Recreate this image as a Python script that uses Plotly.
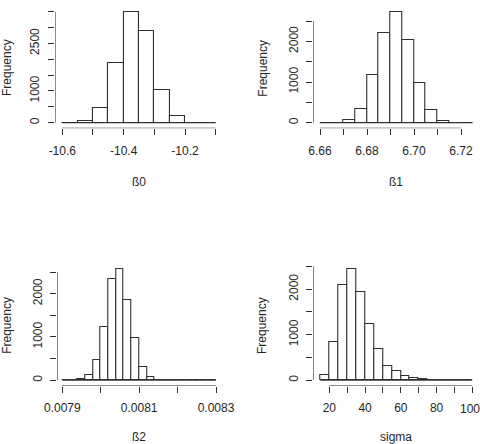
import numpy as np
import plotly.graph_objects as go

W, H = 480, 444

# ---------------- data ----------------
b0_breaks = [-10.60, -10.55, -10.50, -10.45, -10.40, -10.35, -10.30, -10.25, -10.20, -10.15, -10.10]
b0_counts = [0, 40, 462, 1881, 3500, 2880, 1040, 220, 0, 0]
b0_xticks = [-10.6, -10.5, -10.4, -10.3, -10.2, -10.1]
b0_xlabels = ["-10.6", "", "-10.4", "", "-10.2", ""]
b0_yticks = [0, 500, 1000, 1500, 2000, 2500, 3000, 3500]
b0_ylabels = ["0", "", "1000", "", "", "2500", "", ""]

b1_breaks = [6.660, 6.665, 6.670, 6.675, 6.680, 6.685, 6.690, 6.695, 6.700, 6.705, 6.710, 6.715, 6.720, 6.725]
b1_counts = [0, 0, 70, 345, 1165, 2197, 2730, 2035, 970, 315, 45, 0, 0]
b1_xticks = [6.66, 6.67, 6.68, 6.69, 6.70, 6.71, 6.72]
b1_xlabels = ["6.66", "", "6.68", "", "6.70", "", "6.72"]
b1_yticks = [0, 500, 1000, 1500, 2000, 2500]
b1_ylabels = ["0", "", "1000", "", "2000", ""]

b2_breaks = [0.00790, 0.00792, 0.00794, 0.00796, 0.00798, 0.00800, 0.00802, 0.00804, 0.00806,
             0.00808, 0.00810, 0.00812, 0.00814, 0.00816, 0.00818, 0.00820, 0.00822, 0.00824,
             0.00826, 0.00828, 0.00830]
b2_counts = [0, 0, 23, 115, 462, 1231, 2331, 2562, 1862, 977, 308, 69, 0, 0, 0, 0, 0, 0, 0, 0]
b2_xticks = [0.0079, 0.0080, 0.0081, 0.0082, 0.0083]
b2_xlabels = ["0.0079", "", "0.0081", "", "0.0083"]
b2_yticks = [0, 500, 1000, 1500, 2000, 2500]
b2_ylabels = ["0", "", "1000", "", "2000", ""]

sg_breaks = [15, 20, 25, 30, 35, 40, 45, 50, 55, 60, 65, 70, 75, 80, 85, 90, 95, 100]
sg_counts = [110, 840, 2098, 2434, 1937, 1235, 687, 314, 197, 95, 40, 25, 0, 0, 0, 0, 0]
sg_xticks = [20, 30, 40, 50, 60, 70, 80, 90, 100]
sg_xlabels = ["20", "", "40", "", "60", "", "80", "", ""]
sg_edge_label = (100, "100")   # last sigma tick label, nudged inside the page edge
sg_yticks = [0, 500, 1000, 1500, 2000, 2500]
sg_ylabels = ["0", "", "1000", "", "2000", ""]

x_titles = ["ß0", "ß1", "ß2", "sigma"]

panels = [
    dict(breaks=b0_breaks, counts=b0_counts, xt=b0_xticks, xl=b0_xlabels, yt=b0_yticks, yl=b0_ylabels,
         box=(55, 223, 6, 128.3), xa=((-10.6, 62.3), (-10.1, 215.7)), ya=((0, 122.7), (3500, 11.7)),
         title_xy=(138.5, 181.7), freq_xy=(7.5, 67.5)),
    dict(breaks=b1_breaks, counts=b1_counts, xt=b1_xticks, xl=b1_xlabels, yt=b1_yticks, yl=b1_ylabels,
         box=(313.3, 480, 6, 128.3), xa=((6.66, 320), (6.72, 461)), ya=((0, 122.7), (2500, 21)),
         title_xy=(396, 181.7), freq_xy=(262.7, 68)),
    dict(breaks=b2_breaks, counts=b2_counts, xt=b2_xticks, xl=b2_xlabels, yt=b2_yticks, yl=b2_ylabels,
         box=(57.3, 221, 262, 385.7), xa=((0.0079, 62.3), (0.0083, 216)), ya=((0, 380.3), (2500, 272)),
         title_xy=(138.5, 436.5), freq_xy=(7.5, 325.3)),
    dict(breaks=sg_breaks, counts=sg_counts, xt=sg_xticks, xl=sg_xlabels, yt=sg_yticks, yl=sg_ylabels,
         box=(313.3, 479, 258, 385.7), xa=((20, 329.3), (100, 472.3)), ya=((0, 380.3), (2500, 266.3)),
         title_xy=(396, 436.5), freq_xy=(262.7, 325.3)),
]

LINE = "#303030"
TXT = "#262626"
FONT = "Liberation Sans, Arial, sans-serif"

fig = go.Figure()
layout = dict(width=W, height=H, margin=dict(l=0, r=0, t=0, b=0, autoexpand=False), showlegend=False,
              paper_bgcolor="white", plot_bgcolor="white",
              font=dict(family=FONT, size=12, color=TXT))
annotations = []

for i, p in enumerate(panels):
    n = "" if i == 0 else str(i + 1)
    xr, yr = "x" + n, "y" + n
    L, R, T, B = p["box"]
    (a1, p1), (a2, p2) = p["xa"]
    s = (p2 - p1) / (a2 - a1)
    xrange = [a1 - (p1 - L) / s, a1 + (R - p1) / s]
    (c1, q1), (c2, q2) = p["ya"]
    sy = (q1 - q2) / (c2 - c1)
    yrange = [c1 - (B - q1) / sy, c1 + (q1 - T) / sy]

    br = np.array(p["breaks"], dtype=float)
    centers = (br[:-1] + br[1:]) / 2
    widths = br[1:] - br[:-1]

    # zero baseline across all breaks (zero-height bins)
    fig.add_trace(go.Scatter(x=[br[0], br[-1]], y=[0, 0], mode="lines",
                             line=dict(color=LINE, width=1.1), xaxis=xr, yaxis=yr,
                             hoverinfo="skip"))
    fig.add_trace(go.Bar(x=centers, y=p["counts"], width=widths,
                         marker=dict(color="white", line=dict(color=LINE, width=1.1)),
                         xaxis=xr, yaxis=yr))
    # R-style axis lines spanning first..last tick, at the plot-region edge
    fig.add_trace(go.Scatter(x=[p["xt"][0], p["xt"][-1]], y=[yrange[0], yrange[0]], mode="lines",
                             line=dict(color=LINE, width=1.1), xaxis=xr, yaxis=yr,
                             cliponaxis=False, hoverinfo="skip"))
    fig.add_trace(go.Scatter(x=[xrange[0], xrange[0]], y=[p["yt"][0], p["yt"][-1]], mode="lines",
                             line=dict(color=LINE, width=1.1), xaxis=xr, yaxis=yr,
                             cliponaxis=False, hoverinfo="skip"))

    layout["xaxis" + n] = dict(domain=[L / W, R / W], range=xrange, anchor=yr,
                               showgrid=False, zeroline=False, showline=False,
                               ticks="outside", ticklen=6, tickwidth=1.1, tickcolor=LINE,
                               tickmode="array", tickvals=p["xt"], ticktext=p["xl"],
                               tickfont=dict(family=FONT, size=12, color=TXT),
                               ticklabelstandoff=5, ticklabeloverflow="allow")
    layout["yaxis" + n] = dict(domain=[1 - B / H, 1 - T / H], range=yrange, anchor=xr,
                               showgrid=False, zeroline=False, showline=False,
                               ticks="outside", ticklen=6, tickwidth=1.1, tickcolor=LINE,
                               tickmode="array", tickvals=p["yt"], ticktext=p["yl"],
                               tickangle=-90,
                               tickfont=dict(family=FONT, size=12, color=TXT),
                               ticklabelstandoff=4, ticklabeloverflow="allow")

    tx, ty = p["title_xy"]
    annotations.append(dict(text=x_titles[i], x=tx / W, y=1 - ty / H, xref="paper", yref="paper",
                            showarrow=False, xanchor="center", yanchor="middle",
                            font=dict(family=FONT, size=12, color=TXT)))
    fx, fy = p["freq_xy"]
    annotations.append(dict(text="Frequency", x=fx / W, y=1 - fy / H, xref="paper", yref="paper",
                            showarrow=False, xanchor="center", yanchor="middle", textangle=-90,
                            font=dict(family=FONT, size=12, color=TXT)))

# last sigma tick label at the right page edge, kept fully visible
annotations.append(dict(text=sg_edge_label[1], x=sg_edge_label[0], xref="x4",
                        y=1 - 408.7 / H, yref="paper", xanchor="right", yanchor="middle",
                        xshift=9.5, showarrow=False,
                        font=dict(family=FONT, size=12, color=TXT)))

layout["annotations"] = annotations
layout["bargap"] = 0
fig.update_layout(**layout)
fig.write_html("out.html")
